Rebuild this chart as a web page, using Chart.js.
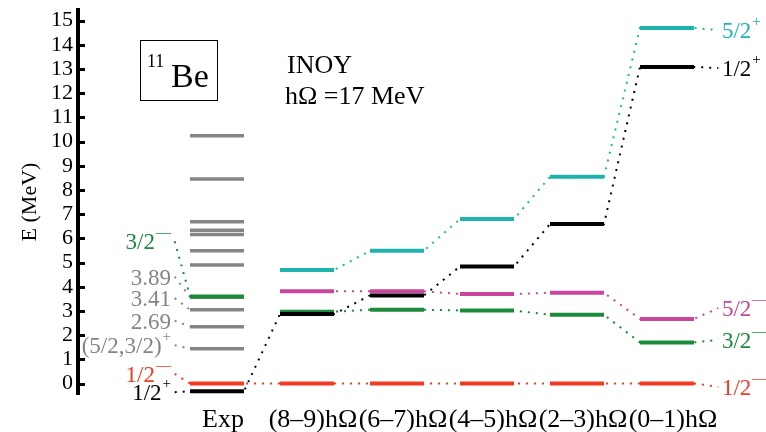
<!DOCTYPE html>
<html>
<head>
<meta charset="utf-8">
<script src="https://cdn.jsdelivr.net/npm/chart.js@4.4.1/dist/chart.umd.min.js"></script>
<style>
  html, body { margin: 0; padding: 0; background: #fff; }
  canvas { display: block; }
</style>
</head>
<body>
<canvas id="levels" width="766" height="432"></canvas>
<script>
// Columns: experiment, then NCSM model spaces from largest to smallest
const columns = ['Exp', '(8–9)hΩ', '(6–7)hΩ', '(4–5)hΩ', '(2–3)hΩ', '(0–1)hΩ'];

// Level energies in MeV (relative to the 1/2− state), one entry per column
const halfPlus       = [-0.32, 2.87, 3.64, 4.84, 6.59, 13.09];   // 1/2+
const halfMinus      = [0.00, 0.00, 0.00, 0.00, 0.00, 0.00];     // 1/2−
const threeHalfMinus = [3.60, 2.97, 3.05, 3.02, 2.84, 1.70];     // 3/2−
const fiveHalfMinus  = [null, 3.81, 3.81, 3.70, 3.75, 2.67];     // 5/2−
const fiveHalfPlus   = [null, 4.69, 5.49, 6.80, 8.55, 14.70];    // 5/2+

// Remaining experimental levels (grey)
const expLevels = [1.44, 2.35, 3.05, 3.57, 4.90, 5.49, 6.16, 6.34, 6.69, 8.45, 10.24];
// Excitation energies written next to some of them
const expLevelNames = ['(5/2,3/2)', '2.69', '3.41', '3.89'];

// Energy axis ticks
const yTicks = [0, 1, 2, 3, 4, 5, 6, 7, 8, 9, 10, 11, 12, 13, 14, 15];

// ---------------------------------------------------------------------------
const SERIF = '"Liberation Serif", "DejaVu Serif", "Times New Roman", serif';
const BLACK = '#000000', RED = '#ef3b24', GREEN = '#1b8a3b',
      MAGENTA = '#c9469c', CYAN = '#20b3ad', GRAY = '#858585';

const HALF = 0.3;          // half width of a level bar, in column units
const TAG_X = 5.61;        // left edge of the state names on the right
const TAG_LINK_X = 5.57;   // where the dotted lead to those names ends
const NOTE_X = -0.511;     // right edge of the names at the left of Exp
const NOTE_LINK_X = -0.47;

const series = [
  { values: halfPlus,       color: BLACK,   fromExp: true,  tag: ['1/2', '+'], tagAt: 13.04, order: 1 },
  { values: threeHalfMinus, color: GREEN,   fromExp: false, tag: ['3/2', '—'], tagAt: 1.80,  order: 3 },
  { values: fiveHalfMinus,  color: MAGENTA, fromExp: false, tag: ['5/2', '—'], tagAt: 3.12,  order: 2 },
  { values: halfMinus,      color: RED,     fromExp: true,  tag: ['1/2', '—'], tagAt: -0.14, order: 2 },
  { values: fiveHalfPlus,   color: CYAN,    fromExp: false, tag: ['5/2', '+'], tagAt: 14.61, order: 2 }
];

// Names at the left of the experimental column and the level each points to
const notes = [
  { base: '3/2', sup: '—', color: GREEN, at: 5.88, level: threeHalfMinus[0] },
  { base: expLevelNames[3], sup: '', color: GRAY, at: 4.42, level: expLevels[3] },
  { base: expLevelNames[2], sup: '', color: GRAY, at: 3.53, level: expLevels[2] },
  { base: expLevelNames[1], sup: '', color: GRAY, at: 2.60, level: expLevels[1] },
  { base: expLevelNames[0], sup: '+', color: GRAY, at: 1.58, level: expLevels[0] },
  { base: '1/2', sup: '—', color: RED, at: 0.40, level: halfMinus[0] },
  { base: '1/2', sup: '+', color: BLACK, at: -0.36, level: halfPlus[0] }
];

// Bars of one state across the columns, broken between columns
function barPoints(values) {
  const pts = [];
  values.forEach((v, i) => {
    if (v === null) return;
    pts.push({ x: i - HALF, y: v }, { x: i + HALF, y: v }, { x: i, y: null });
  });
  return pts;
}

// Bars stacked in the experimental column
function expBarPoints(values) {
  const pts = [];
  values.forEach(v => pts.push({ x: -HALF, y: v }, { x: HALF, y: v }, { x: 0, y: null }));
  return pts;
}

// Dotted path joining one state from column to column, ending at its name
function linkPoints(s) {
  const pts = [];
  s.values.forEach((v, i) => {
    if (v === null || (i === 0 && !s.fromExp)) return;
    pts.push({ x: i - HALF, y: v }, { x: i + HALF, y: v });
  });
  pts.push({ x: TAG_LINK_X, y: s.tagAt });
  return pts;
}

const dotted = (color, data) => ({
  data, borderColor: color, borderWidth: 2, borderDash: [2, 6],
  borderCapStyle: 'butt', showLine: true, pointRadius: 0, order: 20, spanGaps: false
});
const solid = (color, data, width, order) => ({
  data, borderColor: color, borderWidth: width, borderCapStyle: 'butt',
  showLine: true, pointRadius: 0, order, spanGaps: false
});

const datasets = [];
series.forEach(s => datasets.push(dotted(s.color, linkPoints(s))));
notes.forEach(n => datasets.push(dotted(n.color, [
  { x: NOTE_LINK_X, y: n.at }, { x: -HALF, y: n.level }
])));
datasets.push(solid(GRAY, expBarPoints(expLevels), 3.5, 10));
series.forEach(s => datasets.push(solid(s.color, barPoints(s.values), 4, s.order)));

function drawTagged(ctx, x, yMid, base, sup, color, alignRight) {
  const baseFont = '23px ' + SERIF, supFont = '15px ' + SERIF;
  ctx.save();
  ctx.fillStyle = color;
  ctx.textBaseline = 'alphabetic';
  ctx.textAlign = 'left';
  ctx.font = baseFont;
  const wb = ctx.measureText(base).width;
  ctx.font = supFont;
  const ws = sup ? ctx.measureText(sup).width + 1 : 0;
  const x0 = alignRight ? x - wb - ws : x;
  const baseline = yMid + 8;
  ctx.font = baseFont;
  ctx.fillText(base, x0, baseline);
  if (sup) {
    ctx.font = supFont;
    ctx.fillText(sup, x0 + wb + 1, baseline - 12);
  }
  ctx.restore();
}

const decorations = {
  id: 'decorations',
  afterDraw(chart) {
    const { ctx, chartArea } = chart;
    const xs = chart.scales.x, ys = chart.scales.y;

    // inward tick marks on the energy axis
    ctx.save();
    ctx.strokeStyle = BLACK;
    ctx.lineWidth = 3;
    yTicks.forEach(t => {
      const py = Math.round(ys.getPixelForValue(t)) + 0.5;
      ctx.beginPath();
      ctx.moveTo(chartArea.left, py);
      ctx.lineTo(chartArea.left + 7, py);
      ctx.stroke();
    });
    ctx.restore();

    // nucleus box
    ctx.save();
    ctx.strokeStyle = BLACK;
    ctx.lineWidth = 1;
    ctx.strokeRect(140.5, 40.5, 77, 60);
    ctx.fillStyle = BLACK;
    ctx.textBaseline = 'alphabetic';
    ctx.font = '18px ' + SERIF;
    ctx.fillText('11', 147, 67);
    ctx.font = '34px ' + SERIF;
    ctx.fillText('Be', 171, 87);
    ctx.font = '26px ' + SERIF;
    ctx.fillText('INOY', 287, 73);
    ctx.fillText('hΩ =17 MeV', 285, 104);
    ctx.restore();

    // state names on the right
    series.forEach(s => {
      drawTagged(ctx, xs.getPixelForValue(TAG_X), ys.getPixelForValue(s.tagAt),
        s.tag[0], s.tag[1], s.color, false);
    });
    // names at the left of the experimental column
    notes.forEach(n => {
      drawTagged(ctx, xs.getPixelForValue(NOTE_X), ys.getPixelForValue(n.at),
        n.base, n.sup, n.color, true);
    });
  }
};

new Chart(document.getElementById('levels'), {
  type: 'scatter',
  data: { datasets },
  options: {
    responsive: false,
    animation: false,
    devicePixelRatio: 1,
    layout: { padding: { top: 10, right: 0, bottom: 0, left: 0 } },
    plugins: { legend: { display: false }, tooltip: { enabled: false } },
    scales: {
      x: {
        type: 'linear',
        min: -1.5444,
        max: 6.1,
        grid: { display: false },
        border: { display: false },
        afterBuildTicks: sc => { sc.ticks = columns.map((_, i) => ({ value: i })); },
        afterFit: sc => {
          sc.height = 38;
          sc.paddingLeft = 0; sc.paddingRight = 0;
        },
        ticks: {
          autoSkip: false,
          maxRotation: 0,
          padding: 3,
          labelOffset: 6,
          color: BLACK,
          font: { family: SERIF, size: 26 },
          callback: v => columns[Math.round(v)]
        }
      },
      y: {
        type: 'linear',
        min: -0.434,
        max: 15.442,
        grid: { display: true, drawOnChartArea: false, drawTicks: false },
        border: { display: true, color: BLACK, width: 4 },
        afterBuildTicks: sc => { sc.ticks = yTicks.map(v => ({ value: v })); },
        afterFit: sc => {
          sc.width = 78;
          sc.paddingTop = 0; sc.paddingBottom = 0;
        },
        title: {
          display: true,
          text: 'E (MeV)',
          color: BLACK,
          font: { family: SERIF, size: 22 },
          padding: { top: 17, bottom: 0 }
        },
        ticks: {
          autoSkip: false,
          padding: 5,
          color: BLACK,
          font: { family: SERIF, size: 22, lineHeight: 1 },
          callback: v => String(v)
        }
      }
    }
  },
  plugins: [decorations]
});
</script>
</body>
</html>
